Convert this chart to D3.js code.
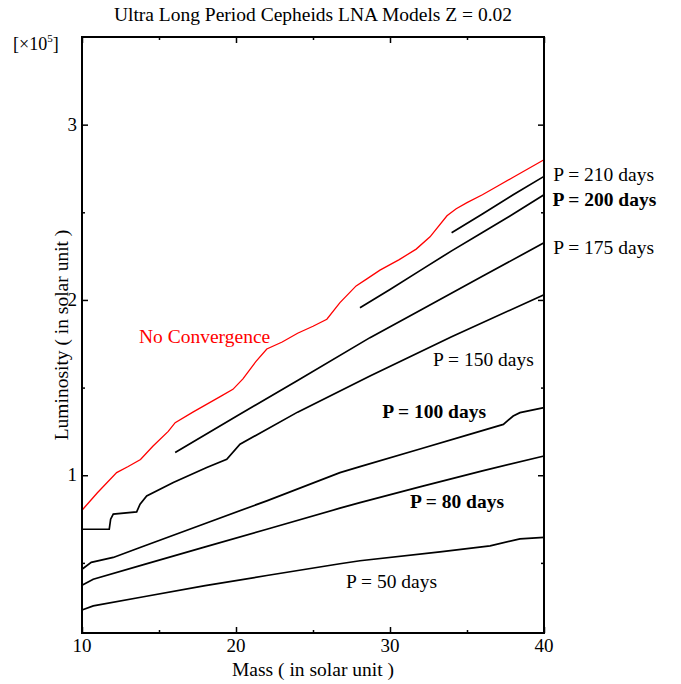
<!DOCTYPE html>
<html>
<head>
<meta charset="utf-8">
<script src="https://cdn.jsdelivr.net/npm/d3@7"></script>
<style>
  body { margin: 0; background: #fff; }
  text { font-family: "Liberation Serif", "Times New Roman", serif; }
</style>
</head>
<body>
<div class="chart"></div>
<script>
//==================================
// Data (mass in solar units, luminosity in 1e5 solar units)
//==================================
var massNoConv = [10, 11, 12.25, 13, 13.8, 14.6, 15.6, 16.05, 17.2, 18, 19, 19.8, 20.45, 21.3, 22, 23, 24, 25, 25.9, 26.75, 27.8, 28.5, 29.35, 30.6, 31.7, 32.6, 33.7, 34.3, 35, 36, 37, 38, 39, 40];
var lumNoConv = [0.80, 0.90, 1.015, 1.05, 1.09, 1.165, 1.25, 1.30, 1.36, 1.40, 1.45, 1.49, 1.55, 1.65, 1.72, 1.76, 1.81, 1.85, 1.89, 1.985, 2.08, 2.12, 2.17, 2.23, 2.29, 2.36, 2.48, 2.52, 2.555, 2.60, 2.65, 2.70, 2.75, 2.80];

var mass210 = [34, 36, 38, 40];
var lum210 = [2.383, 2.49, 2.60, 2.705];

var mass200 = [28.05, 30, 32, 34, 36, 38, 40];
var lum200 = [1.955, 2.06, 2.17, 2.28, 2.385, 2.49, 2.60];

var mass175 = [16.05, 20, 24, 28.7, 32, 36, 40];
var lum175 = [1.13, 1.335, 1.54, 1.785, 1.943, 2.135, 2.326];

var mass150 = [10, 11.77, 11.86, 12.03, 13.55, 13.77, 14.2, 15.93, 18.1, 19.4, 20.26, 24, 28.7, 34, 40];
var lum150 = [0.692, 0.692, 0.749, 0.778, 0.791, 0.835, 0.882, 0.958, 1.044, 1.091, 1.177, 1.36, 1.566, 1.79, 2.03];

var mass100 = [10, 10.6, 12.03, 13.77, 18, 22, 26.75, 28.05, 32, 35, 37.36, 38.0, 38.44, 40];
var lum100 = [0.464, 0.503, 0.531, 0.588, 0.725, 0.854, 1.015, 1.049, 1.151, 1.229, 1.29, 1.338, 1.357, 1.386];

var mass80 = [10, 10.73, 14, 18, 22, 26.75, 28.05, 32, 36, 40];
var lum80 = [0.373, 0.407, 0.49, 0.591, 0.692, 0.812, 0.844, 0.935, 1.025, 1.11];

var mass50 = [10, 10.73, 14, 18, 22, 26.75, 28.05, 33.25, 36.5, 38.44, 40];
var lum50 = [0.231, 0.255, 0.307, 0.37, 0.428, 0.495, 0.512, 0.563, 0.597, 0.637, 0.645];

// Curve labels: text, anchor mass, anchor luminosity, bold?
var labelText = ["P = 210 days", "P = 200 days", "P = 175 days", "P = 150 days", "P = 100 days", "P = 80 days", "P = 50 days", "No Convergence"];
var labelMass = [40.6, 40.55, 40.6, 32.8, 29.5, 31.3, 27.15, 13.7];
var labelLum = [2.72, 2.573, 2.30, 1.661, 1.365, 0.852, 0.396, 1.792];
var labelBold = [false, true, false, false, true, true, false, false];

var xMajorTicks = [10, 20, 30, 40];
var xMinorTicks = [15, 25, 35];
var yMajorTicks = [1, 2, 3];
var yMinorTicks = [0.5, 1.5, 2.5];

//==================================
// Set up our chart
//==================================
var svgWidth = 681;
var svgHeight = 684;
var margin = { top: 37, right: 137, bottom: 51, left: 82 };
var width = svgWidth - margin.left - margin.right;
var height = svgHeight - margin.top - margin.bottom;

var svg = d3.select(".chart")
  .append("svg")
  .attr("width", svgWidth)
  .attr("height", svgHeight);

var chart = svg.append("g")
  .attr("transform", "translate(" + margin.left + "," + margin.top + ")");

var xScale = d3.scaleLinear().domain([10, 40]).range([0, width]);
var yScale = d3.scaleLinear().domain([0.1, 3.5]).range([height, 0]);

// curves
var series = [
  { m: mass210, l: lum210, color: "#000" },
  { m: mass200, l: lum200, color: "#000" },
  { m: mass175, l: lum175, color: "#000" },
  { m: mass150, l: lum150, color: "#000" },
  { m: mass100, l: lum100, color: "#000" },
  { m: mass80, l: lum80, color: "#000" },
  { m: mass50, l: lum50, color: "#000" },
  { m: massNoConv, l: lumNoConv, color: "#ff0000" }
];

var line = d3.line()
  .x(function(d) { return xScale(d[0]); })
  .y(function(d) { return yScale(d[1]); });

chart.selectAll("path.curve")
  .data(series)
  .enter()
  .append("path")
  .attr("class", "curve")
  .attr("fill", "none")
  .attr("stroke", function(d) { return d.color; })
  .attr("stroke-width", function(d) { return d.color === "#000" ? 1.7 : 1.3; })
  .attr("d", function(d) { return line(d3.zip(d.m, d.l)); });

// frame axes with inward ticks on all four sides
function tickAxis(axisFn, scale, values, size) {
  return axisFn(scale).tickValues(values).tickSize(-size).tickFormat("");
}

function styleAxis(g) {
  g.select(".domain").remove();
  g.selectAll(".tick line").attr("stroke", "#000").attr("stroke-width", 1.5);
}

chart.append("g").attr("transform", "translate(0," + height + ")")
  .call(tickAxis(d3.axisBottom, xScale, xMajorTicks, 6)).call(styleAxis);
chart.append("g").attr("transform", "translate(0," + height + ")")
  .call(tickAxis(d3.axisBottom, xScale, xMinorTicks, 3)).call(styleAxis);
chart.append("g")
  .call(tickAxis(d3.axisTop, xScale, xMajorTicks, 6)).call(styleAxis);
chart.append("g")
  .call(tickAxis(d3.axisTop, xScale, xMinorTicks, 3)).call(styleAxis);
chart.append("g")
  .call(tickAxis(d3.axisLeft, yScale, yMajorTicks, 6)).call(styleAxis);
chart.append("g")
  .call(tickAxis(d3.axisLeft, yScale, yMinorTicks, 3)).call(styleAxis);
chart.append("g").attr("transform", "translate(" + width + ",0)")
  .call(tickAxis(d3.axisRight, yScale, yMajorTicks, 6)).call(styleAxis);
chart.append("g").attr("transform", "translate(" + width + ",0)")
  .call(tickAxis(d3.axisRight, yScale, yMinorTicks, 3)).call(styleAxis);

// frame
chart.append("rect")
  .attr("x", 0).attr("y", 0)
  .attr("width", width).attr("height", height)
  .attr("fill", "none")
  .attr("stroke", "#000")
  .attr("stroke-width", 2);

// tick labels
chart.selectAll("text.xtick")
  .data(xMajorTicks)
  .enter()
  .append("text")
  .attr("class", "xtick")
  .attr("x", function(d) { return xScale(d); })
  .attr("y", height + 19)
  .attr("text-anchor", "middle")
  .style("font-size", "19px")
  .text(function(d) { return d; });

chart.selectAll("text.ytick")
  .data(yMajorTicks)
  .enter()
  .append("text")
  .attr("class", "ytick")
  .attr("x", -5)
  .attr("y", function(d) { return yScale(d) + 6; })
  .attr("text-anchor", "end")
  .style("font-size", "19px")
  .text(function(d) { return d; });

// curve labels
chart.selectAll("text.curve-label")
  .data(labelText)
  .enter()
  .append("text")
  .attr("class", "curve-label")
  .attr("x", function(d, i) { return xScale(labelMass[i]); })
  .attr("y", function(d, i) { return yScale(labelLum[i]); })
  .attr("dy", "0.35em")
  .attr("fill", function(d, i) { return i === labelText.length - 1 ? "#ff0000" : "#000"; })
  .style("font-weight", function(d, i) { return labelBold[i] ? "bold" : "normal"; })
  .style("font-size", "19.5px")
  .text(function(d) { return d; });

// title
svg.append("text")
  .attr("x", margin.left + width / 2)
  .attr("y", 21)
  .attr("text-anchor", "middle")
  .style("font-size", "19.5px")
  .text("Ultra Long Period Cepheids LNA Models Z = 0.02");

// multiplier
var mult = svg.append("text")
  .attr("x", 13)
  .attr("y", 50)
  .style("font-size", "18px");
mult.append("tspan").text("[\u00d710");
mult.append("tspan").attr("dy", -8).style("font-size", "11px").text("5");
mult.append("tspan").attr("dy", 8).text("]");

// axis titles
svg.append("text")
  .attr("x", margin.left + width / 2)
  .attr("y", 676)
  .attr("text-anchor", "middle")
  .style("font-size", "19.5px")
  .text("Mass ( in solar unit )");

svg.append("text")
  .attr("transform", "translate(68," + (margin.top + height / 2) + ") rotate(-90)")
  .attr("text-anchor", "middle")
  .style("font-size", "19.5px")
  .text("Luminosity ( in solar unit )");
</script>
</body>
</html>
